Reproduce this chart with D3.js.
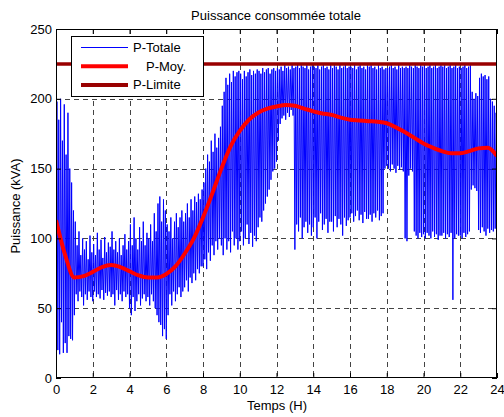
<!DOCTYPE html>
<html>
<head>
<meta charset="utf-8">
<script src="https://cdn.jsdelivr.net/npm/d3@7"></script>
<style>
  html, body { margin: 0; padding: 0; background: #fff; }
  svg { display: block; font-family: Arial, "Liberation Sans", sans-serif; }
</style>
</head>
<body>
<svg id="chart" width="504" height="417"></svg>
<script>
// ---- Data ----
const title = "Puissance consommée totale";
const xLabel = "Temps (H)";
const yLabel = "Puissance (kVA)";
const xTicks = [0, 2, 4, 6, 8, 10, 12, 14, 16, 18, 20, 22, 24];
const yTicks = [0, 50, 100, 150, 200, 250];
const seriesNames = ["P-Totale", "P-Moy.", "P-Limite"];

// P-Totale sampled every 0.05 h (one row per hour), last value at 24 h
const pTotale = [
  0, 198, 20, 185, 17, 200, 40, 170, 18, 196, 25, 160, 18, 190, 30, 150, 28, 140, 27, 120,
  45, 112, 60, 95, 55, 105, 62, 88, 58, 100, 52, 92, 60, 98, 56, 85, 62, 102, 58, 90,
  55, 96, 62, 88, 58, 104, 60, 92, 57, 99, 63, 86, 56, 101, 61, 90, 59, 97, 62, 94,
  58, 105, 60, 92, 52, 98, 63, 90, 56, 100, 60, 88, 55, 95, 62, 103, 58, 92, 60, 98,
  50, 110, 45, 95, 58, 115, 48, 100, 55, 92, 60, 108, 52, 98, 57, 112, 60, 95, 55, 104,
  58, 100, 52, 110, 60, 98, 55, 118, 50, 105, 45, 125, 40, 130, 38, 112, 30, 128, 35, 120,
  28, 110, 45, 105, 60, 115, 52, 100, 62, 112, 55, 118, 60, 108, 65, 115, 58, 120, 62, 112,
  65, 118, 70, 125, 62, 115, 72, 128, 68, 120, 75, 130, 70, 126, 78, 132, 75, 128, 80, 135,
  80, 140, 85, 150, 78, 160, 90, 155, 84, 170, 95, 162, 88, 175, 98, 165, 92, 172, 100, 180,
  95, 195, 88, 205, 100, 215, 92, 210, 98, 218, 90, 212, 105, 220, 95, 216, 100, 219, 92, 220,
  98, 218, 105, 214, 95, 220, 100, 216, 110, 219, 96, 221, 104, 217, 94, 220, 102, 218, 98, 221,
  108, 220, 115, 218, 112, 222, 120, 219, 125, 221, 130, 222, 135, 218, 142, 221, 148, 222, 150, 220,
  155, 222, 170, 221, 182, 223, 186, 220, 188, 224, 185, 222, 190, 223, 187, 221, 192, 224, 188, 222,
  92, 223, 110, 225, 105, 222, 115, 224, 100, 223, 108, 222, 112, 224, 104, 221, 110, 223, 102, 224,
  108, 223, 115, 222, 100, 224, 112, 221, 118, 223, 106, 224, 110, 222, 114, 223, 104, 221, 112, 224,
  112, 222, 105, 224, 116, 223, 108, 221, 114, 224, 110, 222, 102, 223, 115, 224, 109, 222, 113, 223,
  115, 223, 118, 222, 112, 224, 116, 221, 120, 223, 113, 224, 117, 222, 111, 223, 119, 221, 114, 224,
  114, 223, 117, 224, 112, 222, 118, 223, 115, 221, 120, 224, 113, 222, 116, 223, 118, 221, 150, 222,
  152, 222, 150, 223, 148, 224, 153, 222, 150, 223, 147, 221, 152, 224, 149, 222, 151, 223, 148, 222,
  100, 223, 98, 222, 145, 224, 150, 223, 148, 222, 105, 224, 102, 223, 100, 222, 104, 224, 101, 223,
  103, 224, 100, 222, 104, 223, 102, 224, 100, 222, 105, 223, 101, 224, 103, 222, 99, 223, 102, 224,
  102, 223, 104, 224, 100, 222, 103, 223, 101, 224, 104, 222, 56, 223, 100, 224, 103, 222, 102, 223,
  102, 222, 100, 223, 104, 224, 101, 222, 103, 223, 105, 224, 135, 205, 138, 200, 136, 204, 134, 202,
  106, 215, 104, 218, 108, 216, 105, 217, 102, 214, 107, 216, 104, 200, 106, 198, 105, 195, 107, 190,
  160
];
const pTotaleStep = 0.05;

// P-Moy. (moving average) at t = 0, 0.5, ... 24 h
const pMoy = [
  113, 88, 72, 73, 76, 79.5, 81, 79.5, 76.5, 73.5,
  72, 72, 74.5, 80, 89, 100, 115, 132, 150, 166,
  177, 185, 190, 193, 194.5, 195.5, 195, 193, 191, 189.5,
  188.5, 186.5, 185, 184.5, 184, 183.5, 182.5, 179.5, 176, 172,
  168, 165, 162.5, 161, 161, 162.5, 164.5, 165, 159
];
const pMoyStep = 0.5;
const pLimite = 225;

// ---- Build point lists ----
const totale = pTotale.map((v, i) => [i * pTotaleStep, v]);
const moy = pMoy.map((v, i) => [i * pMoyStep, v]);

// ---- Chart ----
const svg = d3.select("#chart");
const L = 56, R = 497, T = 29, B = 378;
const x = d3.scaleLinear().domain([0, 24]).range([L, R]);
const y = d3.scaleLinear().domain([0, 250]).range([B, T]);

svg.append("rect").attr("width", 504).attr("height", 417).attr("fill", "#fff");

svg.append("defs").append("clipPath").attr("id", "clip")
  .append("rect").attr("x", L).attr("y", T).attr("width", R - L).attr("height", B - T);

// grid
const grid = svg.append("g").attr("stroke", "#444").attr("stroke-width", 1)
  .attr("stroke-dasharray", "5,4");
grid.selectAll(".gx").data(xTicks.slice(1, -1)).join("line")
  .attr("x1", d => Math.round(x(d)) + 0.5).attr("x2", d => Math.round(x(d)) + 0.5)
  .attr("y1", T).attr("y2", B);
grid.selectAll(".gy").data(yTicks.slice(1, -1)).join("line")
  .attr("y1", d => Math.round(y(d)) + 0.5).attr("y2", d => Math.round(y(d)) + 0.5)
  .attr("x1", L).attr("x2", R);

const plot = svg.append("g").attr("clip-path", "url(#clip)");
const line = d3.line().x(d => x(d[0])).y(d => y(d[1]));

plot.append("path").datum(totale).attr("d", line)
  .attr("fill", "none").attr("stroke", "#0000ff").attr("stroke-width", 1);
plot.append("path").datum(moy).attr("d", d3.line().x(d => x(d[0])).y(d => y(d[1])).curve(d3.curveMonotoneX))
  .attr("fill", "none").attr("stroke", "#ff0000").attr("stroke-width", 4)
  .attr("stroke-linejoin", "round");
plot.append("line").attr("x1", x(0)).attr("x2", x(24))
  .attr("y1", y(pLimite)).attr("y2", y(pLimite))
  .attr("stroke", "#990000").attr("stroke-width", 3.5);

// axes
const fs = "13px";
const ax = svg.append("g").attr("transform", `translate(0,${B})`)
  .call(d3.axisBottom(x).tickValues(xTicks).tickSize(-5).tickSizeOuter(0).tickPadding(7));
const ay = svg.append("g").attr("transform", `translate(${L},0)`)
  .call(d3.axisLeft(y).tickValues(yTicks).tickSize(-5).tickSizeOuter(0).tickPadding(4));
const axT = svg.append("g").attr("transform", `translate(0,${T})`)
  .call(d3.axisTop(x).tickValues(xTicks).tickSize(-5).tickSizeOuter(0).tickFormat(""));
const ayR = svg.append("g").attr("transform", `translate(${R},0)`)
  .call(d3.axisRight(y).tickValues(yTicks).tickSize(-5).tickSizeOuter(0).tickFormat(""));
[ax, ay, axT, ayR].forEach(g => {
  g.select(".domain").remove();
  g.selectAll("text").attr("font-size", fs).attr("font-family", "Arial, 'Liberation Sans', sans-serif").attr("fill", "#000");
  g.selectAll("line").attr("stroke", "#000");
});
svg.append("rect").attr("x", L + 0.5).attr("y", T + 0.5).attr("width", R - L - 1).attr("height", B - T - 1)
  .attr("fill", "none").attr("stroke", "#000").attr("stroke-width", 1);

// titles
svg.append("text").attr("x", 276).attr("y", 19.5).attr("text-anchor", "middle")
  .attr("font-size", fs).text(title);
svg.append("text").attr("x", 277).attr("y", 410).attr("text-anchor", "middle")
  .attr("font-size", fs).text(xLabel);
svg.append("text").attr("transform", "translate(20,206) rotate(-90)").attr("text-anchor", "middle")
  .attr("font-size", fs).text(yLabel);

// legend
const lg = svg.append("g");
lg.append("rect").attr("x", 71.5).attr("y", 36.5).attr("width", 132).attr("height", 60)
  .attr("fill", "#fff").attr("stroke", "#000");
const legendItems = [
  { name: seriesNames[0], color: "#0000ff", w: 1, tx: 133 },
  { name: seriesNames[1], color: "#ff0000", w: 4, tx: 146 },
  { name: seriesNames[2], color: "#990000", w: 4, tx: 133 }
];
legendItems.forEach((d, i) => {
  const yy = 47.5 + i * 18.7;
  lg.append("line").attr("x1", 81).attr("x2", 128).attr("y1", yy).attr("y2", yy)
    .attr("stroke", d.color).attr("stroke-width", d.w);
  lg.append("text").attr("x", d.tx).attr("y", yy + 4.5).attr("font-size", fs).text(d.name);
});
</script>
</body>
</html>
